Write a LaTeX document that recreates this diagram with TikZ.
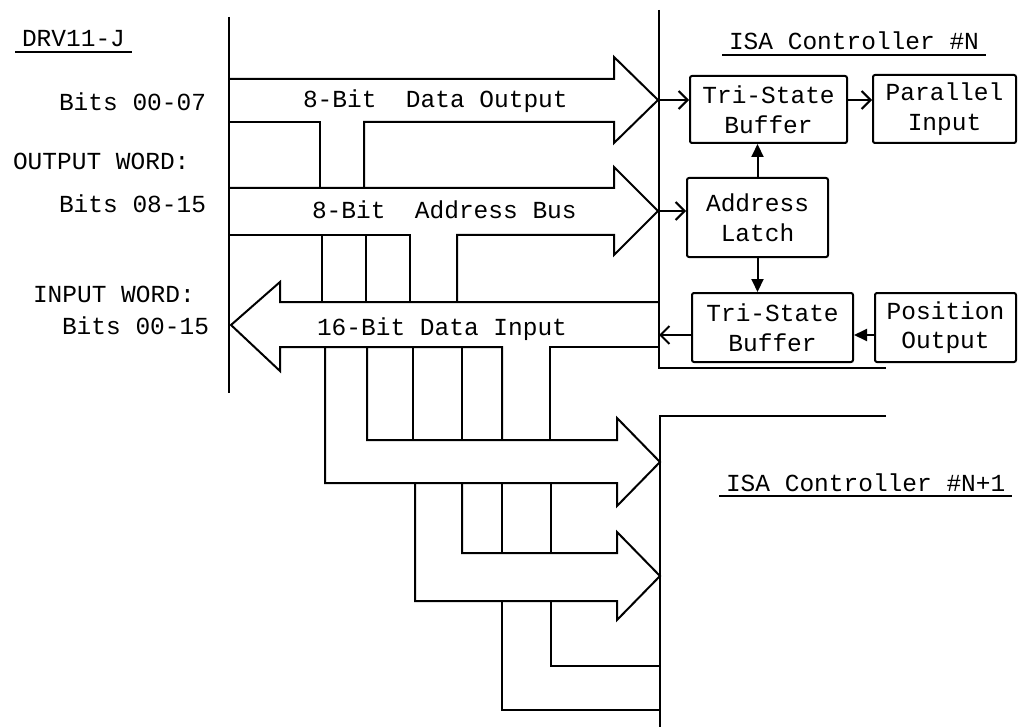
\documentclass[tikz,border=0pt]{standalone}
\usepackage{fontspec}
\setmainfont{Liberation Mono}
\usetikzlibrary{arrows.meta}
\begin{document}
\begin{tikzpicture}[x=1pt,y=-1pt,line width=2pt,
  every node/.style={font=\fontsize{24.5}{29.5}\selectfont,inner sep=0pt},
  lbl/.style={anchor=base west},
  title/.style={anchor=base west,inner xsep=6pt,inner ysep=4pt},
  box/.style={draw,rounded corners=2pt,align=center},
  openhead/.style={-{Straight Barb[length=9pt,width=18pt]}},
  fillhead/.style={-{Triangle[length=13pt,width=12pt]}}]
\useasboundingbox (0,0) rectangle (1019,727);

% left side texts
\node[title] (drv) at (15,47) {DRV11-J};
\draw (drv.south west) -- (drv.south east);
\node[lbl] (b1) at (58,111) {Bits 00-07};
\node[lbl] (ow) at (12,170) {OUTPUT WORD:};
\node[lbl] (b2) at (58,213) {Bits 08-15};
\node[lbl] (iw) at (32,302) {INPUT WORD:};
\node[lbl] (b3) at (61,334) {Bits 00-15};

% bus labels
\node[lbl] (l1) at (302,108) {8-Bit~~Data Output};
\node[lbl] (l2) at (311,219) {8-Bit~~Address Bus};
\node[lbl] (l3) at (316,335) {16-Bit Data Input};

% controller titles
\node[title] (cn) at (722,50) {ISA Controller \#N};
\draw (cn.south west) -- (cn.south east);
\node[title] (cn1) at (719,491) {ISA Controller \#N+1};
\draw (cn1.south west) -- (cn1.south east);

% frames
\draw (229,17) -- (229,393);
\draw (659,10) -- (659,368) -- (886,368);
\draw (886,416) -- (660,416) -- (660,727);

% 8-bit data output bus
\draw (229,79) -- (614,79) -- (614,57) -- (658,100) -- (614,143) -- (614,122) -- (364,122) -- (364,188);
\draw (229,122) -- (320,122) -- (320,188);
% 8-bit address bus
\draw (229,188) -- (614,188) -- (614,167) -- (658,211) -- (614,255) -- (614,235) -- (457,235) -- (457,302);
\draw (229,235) -- (410,235) -- (410,302);
\draw (322,235) -- (322,302);
\draw (366,235) -- (366,302);
% 16-bit data input bus
\draw (659,302) -- (280,302) -- (280,282) -- (231,325) -- (280,371) -- (280,347) -- (502,347) -- (502,440);
\draw (659,347) -- (550,347) -- (550,440);
% first bus to controller N+1
\draw (367,347) -- (367,440) -- (617,440) -- (617,418) -- (660,462) -- (617,506) -- (617,483) -- (325,483) -- (325,347);
\draw (413,347) -- (413,440);
\draw (462,347) -- (462,440);
% second bus
\draw (462,483) -- (462,553) -- (617,553) -- (617,532) -- (660,576) -- (617,620) -- (617,601) -- (415,601) -- (415,483);
\draw (502,483) -- (502,553);
\draw (551,483) -- (551,553);
% third bus
\draw (502,601) -- (502,710) -- (660,710);
\draw (551,601) -- (551,666) -- (660,666);

% controller N boxes
\node[box,minimum width=157pt,minimum height=67pt] (tsb1) at (768.5,109.5) {Tri-State\\Buffer};
\node[box,minimum width=143pt,minimum height=68pt] (par) at (944.5,109) {Parallel\\Input};
\node[box,minimum width=141pt,minimum height=79pt] (lat) at (757.5,217.5) {Address\\Latch};
\node[box,minimum width=161pt,minimum height=69pt] (tsb2) at (772.5,327.5) {Tri-State\\Buffer};
\node[box,minimum width=141pt,minimum height=69pt] (pos) at (945.5,327.5) {Position\\Output};

\coordinate (dtip) at (658,100);
\coordinate (atip) at (658,211);
\coordinate (itap) at (659,335);
\draw[openhead] (dtip) -- (dtip -| tsb1.west);
\draw[openhead] (tsb1.east |- dtip) -- (par.west |- dtip);
\draw[openhead] (atip) -- (atip -| lat.west);
\draw[fillhead] (lat.north) -- (lat.north |- tsb1.south);
\draw[fillhead] (lat.south) -- (lat.south |- tsb2.north);
\draw[fillhead] (pos.west |- itap) -- (tsb2.east |- itap);
\draw[openhead] (tsb2.west |- itap) -- (itap);
\end{tikzpicture}
\end{document}
